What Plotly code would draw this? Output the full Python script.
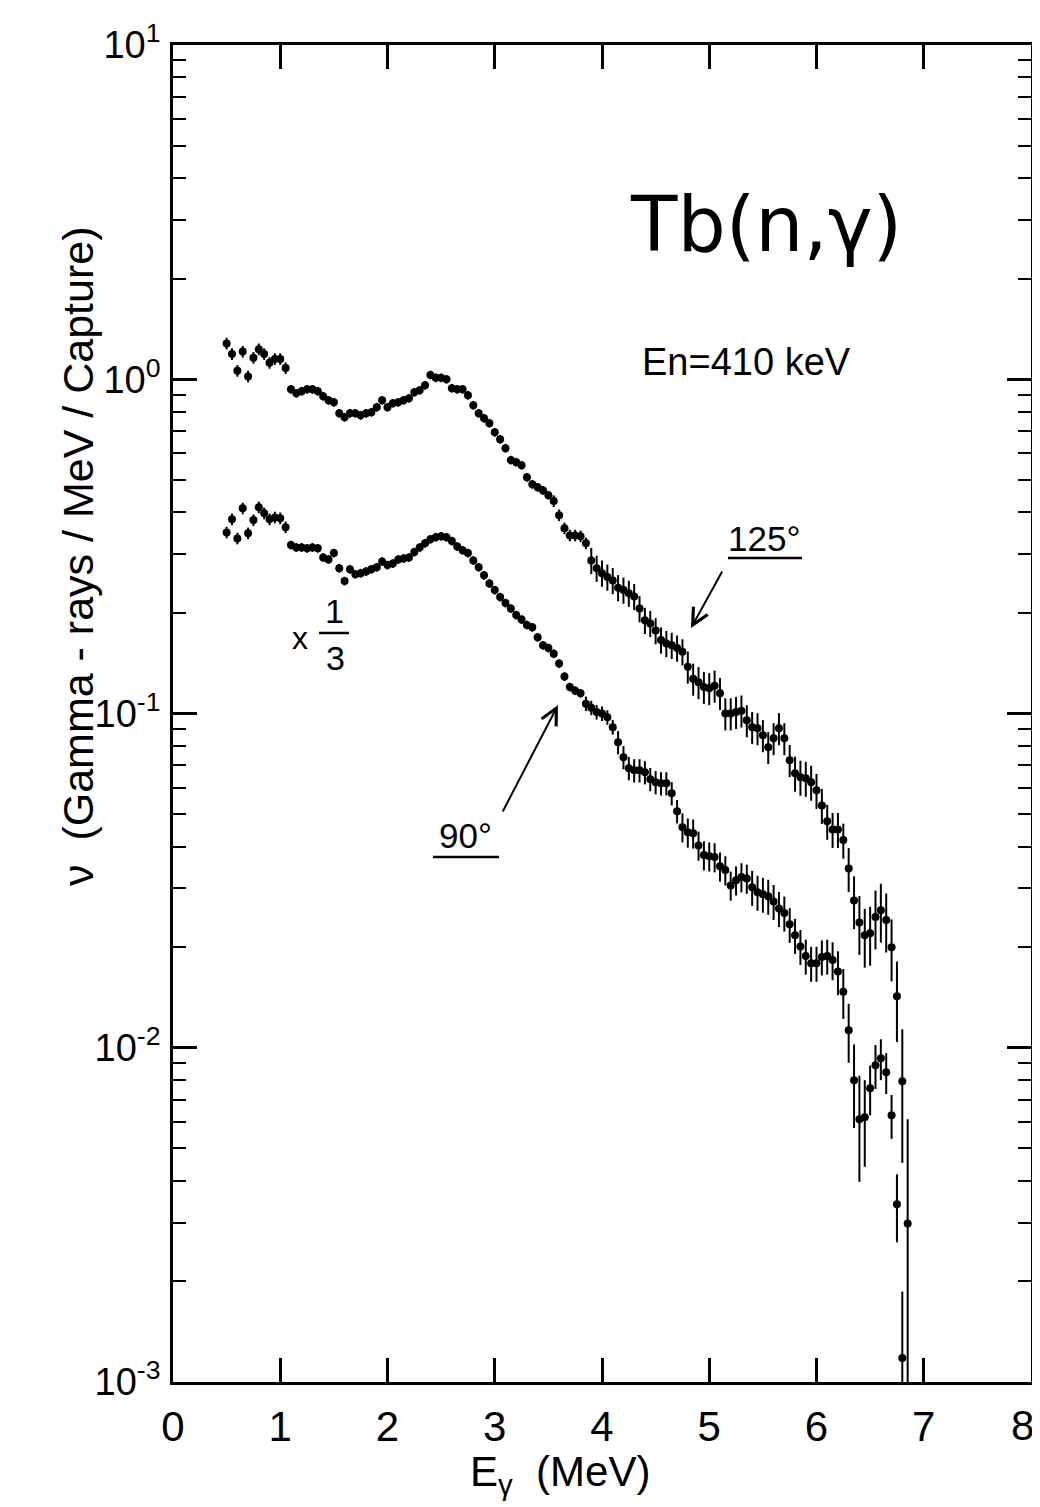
import plotly.graph_objects as go

# ---------------- data ----------------
energy_125 = [0.50, 0.55, 0.60, 0.65, 0.70, 0.75, 0.80, 0.85, 0.90, 0.95,
              1.00, 1.05, 1.10, 1.15, 1.20, 1.25, 1.30, 1.35, 1.40, 1.45,
              1.50, 1.55, 1.60, 1.65, 1.70, 1.75, 1.80, 1.85, 1.90, 1.95,
              2.00, 2.05, 2.10, 2.15, 2.20, 2.25, 2.30, 2.35, 2.40, 2.45,
              2.50, 2.55, 2.60, 2.65, 2.70, 2.75, 2.80, 2.85, 2.90, 2.95,
              3.00, 3.05, 3.10, 3.15, 3.20, 3.25, 3.30, 3.35, 3.40, 3.45,
              3.50, 3.55, 3.60, 3.65, 3.70, 3.75, 3.80, 3.85, 3.90, 3.95,
              4.00, 4.05, 4.10, 4.15, 4.20, 4.25, 4.30, 4.35, 4.40, 4.45,
              4.50, 4.55, 4.60, 4.65, 4.70, 4.75, 4.80, 4.85, 4.90, 4.95,
              5.00, 5.05, 5.10, 5.15, 5.20, 5.25, 5.30, 5.35, 5.40, 5.45,
              5.50, 5.55, 5.60, 5.65, 5.70, 5.75, 5.80, 5.85, 5.90, 5.95,
              6.00, 6.05, 6.10, 6.15, 6.20, 6.25, 6.30, 6.35, 6.40, 6.45,
              6.50, 6.55, 6.60, 6.65, 6.70, 6.75, 6.80, 6.85]
energy_90 = energy_125[:127]

# 125 degrees spectrum (Gamma-rays / MeV / capture)
nu_125 = [1.28, 1.19, 1.06, 1.21, 1.02, 1.16, 1.23, 1.19, 1.12, 1.15,
          1.15, 1.08, 0.933, 0.908, 0.921, 0.933, 0.933, 0.921, 0.890, 0.865,
          0.853, 0.791, 0.770, 0.791, 0.791, 0.780, 0.791, 0.797, 0.825, 0.865,
          0.825, 0.848, 0.853, 0.865, 0.877, 0.914, 0.927, 0.959, 1.03, 1.01,
          1.01, 1.00, 0.940, 0.933, 0.933, 0.896, 0.836, 0.791, 0.764, 0.739,
          0.694, 0.661, 0.622, 0.573, 0.565, 0.553, 0.509, 0.485, 0.475, 0.465,
          0.450, 0.432, 0.392, 0.358, 0.341, 0.341, 0.339, 0.323, 0.287, 0.272,
          0.263, 0.256, 0.250, 0.238, 0.234, 0.229, 0.224, 0.206, 0.190, 0.186,
          0.177, 0.166, 0.162, 0.160, 0.157, 0.153, 0.138, 0.127, 0.124, 0.120,
          0.119, 0.121, 0.115, 0.100, 0.100, 0.101, 0.102, 0.0954, 0.0910, 0.0903,
          0.0861, 0.0793, 0.0843, 0.0903, 0.0843, 0.0725, 0.0663, 0.0645, 0.0640, 0.0623,
          0.0589, 0.0531, 0.0476, 0.0450, 0.0450, 0.0418, 0.0344, 0.0276, 0.0237, 0.0217,
          0.0220, 0.0246, 0.0258, 0.0241, 0.0200, 0.01426, 0.00794, 0.00298]

# 90 degrees spectrum, multiplied by 1/3
nu_90 = [0.348, 0.381, 0.334, 0.411, 0.346, 0.379, 0.414, 0.397, 0.381, 0.386,
         0.384, 0.361, 0.319, 0.314, 0.314, 0.312, 0.314, 0.312, 0.293, 0.289,
         0.302, 0.272, 0.249, 0.270, 0.261, 0.263, 0.266, 0.270, 0.274, 0.285,
         0.278, 0.281, 0.289, 0.291, 0.293, 0.304, 0.314, 0.323, 0.332, 0.337,
         0.339, 0.337, 0.328, 0.316, 0.308, 0.302, 0.287, 0.274, 0.259, 0.245,
         0.234, 0.223, 0.214, 0.206, 0.197, 0.191, 0.184, 0.181, 0.169, 0.160,
         0.157, 0.151, 0.141, 0.129, 0.120, 0.117, 0.115, 0.107, 0.104, 0.101,
         0.100, 0.0974, 0.0910, 0.0820, 0.0740, 0.0686, 0.0676, 0.0676, 0.0667, 0.0636,
         0.0623, 0.0618, 0.0618, 0.0577, 0.0510, 0.0457, 0.0441, 0.0438, 0.0403, 0.0377,
         0.0374, 0.0372, 0.0349, 0.0340, 0.0306, 0.0317, 0.0324, 0.0321, 0.0302, 0.0292,
         0.0288, 0.0284, 0.0274, 0.0261, 0.0253, 0.0234, 0.0217, 0.0201, 0.0188, 0.0179,
         0.0179, 0.0187, 0.0188, 0.0183, 0.0169, 0.0147, 0.01128, 0.00799, 0.00611, 0.00620,
         0.00756, 0.00886, 0.00930, 0.00845, 0.00628, 0.00340, 0.00118]

# relative (fractional) errors read from the error-bar lengths
relerr_125 = [0.04, 0.04, 0.04, 0.04, 0.04, 0.04, 0.04, 0.04, 0.04, 0.04,
              0.04, 0.04, 0.03, 0.03, 0.03, 0.03, 0.03, 0.03, 0.03, 0.03,
              0.03, 0.03, 0.03, 0.03, 0.03, 0.03, 0.03, 0.03, 0.03, 0.03,
              0.03, 0.03, 0.03, 0.03, 0.03, 0.03, 0.03, 0.03, 0.03, 0.03,
              0.03, 0.03, 0.03, 0.03, 0.03, 0.03, 0.03, 0.03, 0.03, 0.03,
              0.03, 0.03, 0.03, 0.03, 0.03, 0.03, 0.03, 0.03, 0.03, 0.03,
              0.03, 0.04, 0.04, 0.04, 0.04, 0.04, 0.04, 0.04, 0.09, 0.09,
              0.09, 0.09, 0.09, 0.09, 0.09, 0.09, 0.09, 0.09, 0.09, 0.09,
              0.09, 0.09, 0.09, 0.09, 0.09, 0.09, 0.11, 0.11, 0.11, 0.11,
              0.11, 0.11, 0.11, 0.11, 0.11, 0.11, 0.11, 0.11, 0.11, 0.11,
              0.11, 0.11, 0.11, 0.11, 0.11, 0.11, 0.12, 0.12, 0.12, 0.12,
              0.12, 0.12, 0.12, 0.12, 0.12, 0.12, 0.15, 0.18, 0.20, 0.20,
              0.20, 0.20, 0.20, 0.20, 0.21, 0.27, 0.43, 1.05]

relerr_90 = [0.04, 0.04, 0.04, 0.04, 0.04, 0.04, 0.04, 0.04, 0.04, 0.04,
             0.04, 0.04, 0.03, 0.03, 0.03, 0.03, 0.03, 0.03, 0.03, 0.03,
             0.03, 0.03, 0.03, 0.03, 0.03, 0.03, 0.03, 0.03, 0.03, 0.03,
             0.03, 0.03, 0.03, 0.03, 0.03, 0.03, 0.03, 0.03, 0.03, 0.03,
             0.03, 0.03, 0.03, 0.03, 0.03, 0.03, 0.03, 0.03, 0.03, 0.03,
             0.03, 0.03, 0.03, 0.03, 0.03, 0.03, 0.03, 0.03, 0.03, 0.03,
             0.03, 0.03, 0.03, 0.03, 0.03, 0.03, 0.03, 0.05, 0.05, 0.05,
             0.05, 0.05, 0.05, 0.08, 0.08, 0.08, 0.08, 0.08, 0.08, 0.08,
             0.08, 0.08, 0.08, 0.08, 0.08, 0.10, 0.10, 0.10, 0.10, 0.10,
             0.10, 0.10, 0.10, 0.10, 0.10, 0.10, 0.10, 0.10, 0.12, 0.12,
             0.12, 0.12, 0.12, 0.12, 0.12, 0.12, 0.12, 0.12, 0.12, 0.12,
             0.12, 0.12, 0.12, 0.13, 0.15, 0.17, 0.20, 0.28, 0.35, 0.29,
             0.17, 0.15, 0.14, 0.14, 0.15, 0.23, 0.58]

bin_half_width = 0.025

x_tickvals = [0, 1, 2, 3, 4, 5, 6, 7, 8]
x_ticktext = ["0", "1", "2", "3", "4", "5", "6", "7", ""]   # "8" drawn below, nudged in
y_tickvals = [1e-3, 1e-2, 1e-1, 1, 10]
y_ticktext = ["10<sup>-3</sup>", "10<sup>-2</sup>", "10<sup>-1</sup>",
              "10<sup>0</sup>", "10<sup>1</sup>"]
y_minor = [m * d for d in (1e-3, 1e-2, 1e-1, 1) for m in range(2, 10)]

FONT = "Liberation Sans"


def errs(vals, rel):
    up = [r * v for r, v in zip(rel, vals)]
    dn = [min(e, 0.9999 * v) for e, v in zip(up, vals)]
    return up, dn


fig = go.Figure()
for xs, ys, rel in ((energy_125, nu_125, relerr_125), (energy_90, nu_90, relerr_90)):
    up, dn = errs(ys, rel)
    fig.add_trace(go.Scatter(
        x=xs, y=ys, mode="markers",
        marker=dict(color="black", size=8, symbol="circle"),
        error_y=dict(type="data", array=up, arrayminus=dn, symmetric=False,
                     color="black", thickness=2, width=0),
        error_x=dict(type="constant", value=bin_half_width, color="black",
                     thickness=2.6, width=0),
        showlegend=False, cliponaxis=True,
    ))

# The page body has an 8 px default margin, so the figure is drawn 8 px
# right/down; the plot frame in the reference spans x 173..1031, y 45..1382.
OFF = 8
FIG_W, FIG_H = 1040 - OFF, 1507 - OFF
L, R, T, B = 173, 1031, 45, 1382


def px(x):
    return (x - L) / float(R - L)


def py(y):
    return (B - y) / float(B - T)


annotations = [
    dict(text="Tb(n,γ)", x=px(766), y=py(224), font=dict(size=76, family="DejaVu Sans")),
    dict(text="En=410 keV", x=px(746), y=py(362), font=dict(size=38)),
    dict(text="125°", x=px(764), y=py(538), font=dict(size=35)),
    dict(text="90°", x=px(465), y=py(835), font=dict(size=35)),
    dict(text="x", x=px(300), y=py(638), font=dict(size=32)),
    dict(text="1", x=px(334), y=py(611), font=dict(size=34)),
    dict(text="3", x=px(335), y=py(658), font=dict(size=34)),
    dict(text="ν  (Gamma - rays / MeV / Capture)", x=px(78), y=py(557),
         textangle=-90, font=dict(size=43)),
    dict(text="E<sub>γ</sub>  (MeV)", x=px(560), y=py(1474), font=dict(size=42)),
    dict(text="8", x=px(1022), y=py(1425), font=dict(size=42)),
]
for a in annotations:
    a.update(xref="paper", yref="paper", showarrow=False,
             xanchor="center", yanchor="middle")
    a["font"].setdefault("family", FONT)
    a["font"]["color"] = "black"

# arrows (tip at x,y; tail offset in pixels)
for tip, tail in (((691, 628), (723, 570)), ((558, 705), (502, 813))):
    annotations.append(dict(
        x=px(tip[0]), y=py(tip[1]), xref="paper", yref="paper", text="",
        showarrow=True, arrowhead=5, arrowsize=1.6, arrowwidth=2,
        arrowcolor="black", ax=tail[0] - tip[0], ay=tail[1] - tip[1],
    ))

shapes = []
for x0, x1, y in ((728, 802, 558), (433, 499, 857), (319, 349, 633)):
    shapes.append(dict(type="line", xref="paper", yref="paper",
                       x0=px(x0), x1=px(x1), y0=py(y), y1=py(y),
                       line=dict(color="black", width=2.5)))

fig.update_layout(
    template="none",
    width=FIG_W, height=FIG_H,
    margin=dict(l=L - OFF, r=FIG_W - (R - OFF), t=T - OFF, b=FIG_H - (B - OFF)),
    paper_bgcolor="white", plot_bgcolor="white",
    font=dict(family=FONT, color="black"),
    annotations=annotations, shapes=shapes,
    showlegend=False,
)
fig.update_xaxes(
    range=[0, 8], tickvals=x_tickvals, ticktext=x_ticktext,
    ticks="inside", ticklen=24, tickwidth=2.5, tickcolor="black",
    showline=True, linewidth=2.8, linecolor="black", mirror="ticks",
    showgrid=False, zeroline=False, automargin=False,
    tickfont=dict(size=42, family=FONT), ticklabelstandoff=6,
)
fig.update_yaxes(
    type="log", range=[-3, 1], tickvals=y_tickvals, ticktext=y_ticktext,
    ticks="inside", ticklen=24, tickwidth=2.5, tickcolor="black",
    minor=dict(tickvals=y_minor, ticks="inside", ticklen=13, tickwidth=2,
               tickcolor="black", showgrid=False),
    showline=True, linewidth=2.8, linecolor="black", mirror="ticks",
    showgrid=False, zeroline=False, automargin=False,
    tickfont=dict(size=38, family=FONT), ticklabelstandoff=2,
)

fig.write_html("out.html")
